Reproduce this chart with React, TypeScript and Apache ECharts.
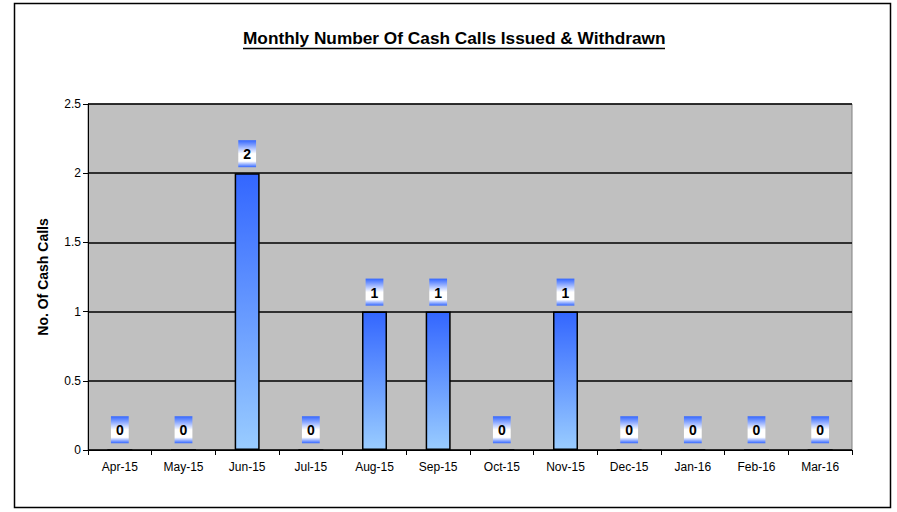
import React, { useEffect, useRef } from "react";
import * as echarts from "echarts";

const categories = ["Apr-15", "May-15", "Jun-15", "Jul-15", "Aug-15", "Sep-15", "Oct-15", "Nov-15", "Dec-15", "Jan-16", "Feb-16", "Mar-16"];
const cashCalls = [0, 0, 2, 0, 1, 1, 0, 1, 0, 0, 0, 0];
const yTicks = { min: 0, max: 2.5, interval: 0.5 };
const titleText = "Monthly Number Of Cash Calls Issued & Withdrawn";
const yAxisName = "No. Of Cash Calls";

export default function App() {
  const ref = useRef<HTMLDivElement>(null);
  useEffect(() => {
    if (!ref.current) return;
    const chart = echarts.init(ref.current, null, { renderer: "svg" });
    const font = "Arial, 'Liberation Sans', sans-serif";
    chart.setOption({
      animation: false,
      backgroundColor: "#ffffff",
      title: {
        text: titleText,
        left: 243,
        top: 29,
        padding: 0,
        textStyle: { fontFamily: font, fontSize: 17.25, fontWeight: "bold", color: "#000" },
      },
      graphic: [
        {
          type: "rect",
          shape: { x: 14.5, y: 3.5, width: 876, height: 504 },
          style: { fill: "none", stroke: "#000", lineWidth: 1.5 },
          z: 100,
        },
        {
          type: "line",
          shape: { x1: 243, y1: 48.5, x2: 665, y2: 48.5 },
          style: { stroke: "#000", lineWidth: 1.5 },
        },
      ],
      grid: {
        left: 88,
        right: 45,
        top: 104,
        bottom: 62,
        show: true,
        backgroundColor: "#c0c0c0",
        borderColor: "#808080",
        borderWidth: 1,
      },
      xAxis: {
        type: "category",
        data: categories,
        axisLine: { lineStyle: { color: "#000", width: 1 } },
        axisTick: { show: true, length: 5, lineStyle: { color: "#000" } },
        axisLabel: { fontFamily: font, fontSize: 12, color: "#000", margin: 11 },
      },
      yAxis: {
        type: "value",
        min: yTicks.min,
        max: yTicks.max,
        interval: yTicks.interval,
        name: yAxisName,
        nameLocation: "middle",
        nameGap: 38,
        nameTextStyle: { fontFamily: font, fontSize: 14, fontWeight: "bold", color: "#000" },
        axisLine: { show: true, lineStyle: { color: "#000", width: 1 } },
        axisTick: { show: true, length: 5, lineStyle: { color: "#000" } },
        axisLabel: { fontFamily: font, fontSize: 12, color: "#000", margin: 7 },
        splitLine: { show: true, lineStyle: { color: "#000", width: 1.5 } },
      },
      series: [
        {
          type: "bar",
          data: cashCalls,
          barWidth: 25,
          itemStyle: {
            color: new echarts.graphic.LinearGradient(0, 0, 0, 1, [
              { offset: 0, color: "#3366ff" },
              { offset: 1, color: "#99ccff" },
            ]),
            borderColor: "#000",
            borderWidth: 1.5,
          },
          label: {
            show: true,
            position: "top",
            distance: 6,
            fontFamily: font,
            fontSize: 14,
            fontWeight: "bold",
            color: "#000",
            padding: [7, 5, 6, 5],
            backgroundColor: new echarts.graphic.LinearGradient(0, 0, 0, 1, [
              { offset: 0, color: "#3366ff" },
              { offset: 0.5, color: "#ffffff" },
              { offset: 0.78, color: "#ffffff" },
              { offset: 1, color: "#3366ff" },
            ]),
          },
        },
      ],
    });
    return () => chart.dispose();
  }, []);
  return <div ref={ref} style={{ position: "fixed", left: 0, top: 0, width: 897, height: 512 }} />;
}
